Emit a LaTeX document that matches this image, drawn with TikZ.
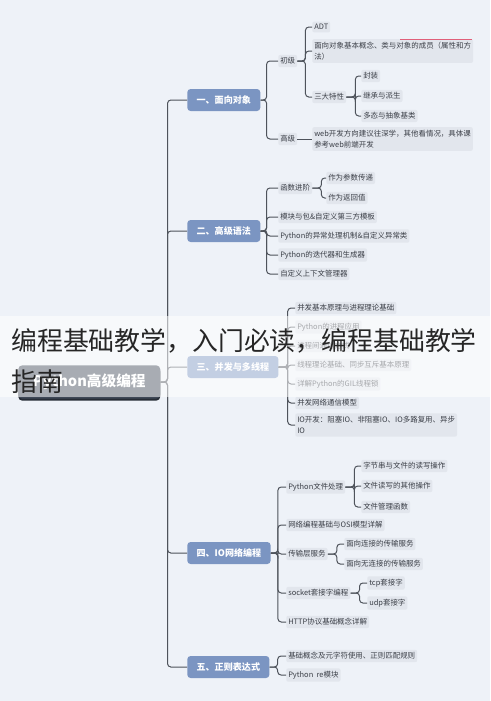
\documentclass[tikz,border=0pt]{standalone}
\usepackage{fontspec}
\setmainfont{Noto Sans CJK SC}
\usetikzlibrary{positioning,shadows}
\definecolor{bg}{HTML}{EEF2F8}
\definecolor{secblue}{HTML}{7B95C2}
\definecolor{itemgray}{HTML}{E2E6ED}
\definecolor{linegray}{HTML}{4E535B}
\definecolor{txt}{HTML}{3C4048}
\definecolor{rootdark}{HTML}{3F4857}
\definecolor{rootedge}{HTML}{262C36}
\definecolor{marker}{HTML}{E0607A}
\tikzstyle{root}=[rectangle,rounded corners=3pt,fill=rootdark,text=white,font=\fontsize{11}{13}\selectfont\bfseries,minimum width=106.5pt,minimum height=25pt,anchor=west,drop shadow={shadow xshift=0pt,shadow yshift=-1.5pt,fill=rootedge,opacity=1}]
\tikzstyle{sec}=[rectangle,rounded corners=2.5pt,fill=secblue,text=white,font=\fontsize{6.8}{8}\selectfont\bfseries,minimum height=16.5pt,inner xsep=7pt,anchor=west]
\tikzstyle{item}=[rectangle,rounded corners=1.5pt,fill=itemgray,text=txt,font=\fontsize{5.6}{8.6}\selectfont,inner xsep=1.5pt,inner ysep=2pt,align=left,anchor=west]
\tikzstyle{link}=[draw=linegray,line width=0.75pt,rounded corners=2.5pt]
\tikzstyle{wmark}=[font=\fontsize{19.4}{22}\selectfont,text=black!85,inner sep=0pt,anchor=west]
\begin{document}
\begin{tikzpicture}[x=0.75pt,y=-0.75pt]
\useasboundingbox (0,0) rectangle (490,701);
\fill[bg] (0,0) rectangle (490,701);
\node[root] (R) at (18,382) {Python高级编程};
\node[sec] (S1) at (187,100) {一、面向对象};
\node[sec] (S2) at (187,231) {二、高级语法};
\node[sec] (S3) at (187,367) {三、并发与多线程};
\node[sec] (S4) at (187,553) {四、IO网络编程};
\node[sec] (S5) at (187,667) {五、正则表达式};
\foreach \s in {S1,S2,S3,S4,S5}
  \draw[link] (R.east) -- ++(7,0) |- (\s.west);
\node[item] (A1) at (278,61) {初级};
\node[item] (A2) at (278,139) {高级};
\node[item] (A11) at (312,27) {ADT};
\node[item] (A12) at (312,51) {面向对象基本概念、类与对象的成员（属性和方\\法）};
\node[item] (A13) at (312,97) {三大特性};
\node[item] (A131) at (361,76) {封装};
\node[item] (A132) at (361,96) {继承与派生};
\node[item] (A133) at (361,116) {多态与抽象基类};
\node[item] (A21) at (312,139) {web开发方向建议往深学，其他看情况，具体课\\参考web前端开发};
\draw[marker,line width=0.6pt] (400,39) -- (472,39);
\foreach \c in {A1,A2} \draw[link] (S1.east) -- ++(6,0) |- (\c.west);
\foreach \c in {A11,A12,A13} \draw[link] (A1.east) -- ++(8,0) |- (\c.west);
\foreach \c in {A131,A132,A133} \draw[link] (A13.east) -- ++(9,0) |- (\c.west);
\draw[link] (A2.east) -- (A21.west);
\node[item] (B1) at (278,188) {函数进阶};
\node[item] (B11) at (326,178) {作为参数传递};
\node[item] (B12) at (326,198) {作为返回值};
\node[item] (B2) at (278,217) {模块与包\&自定义第三方模板};
\node[item] (B3) at (278,236) {Python的异常处理机制\&自定义异常类};
\node[item] (B4) at (278,255) {Python的迭代器和生成器};
\node[item] (B5) at (278,274) {自定义上下文管理器};
\foreach \c in {B1,B2,B3,B4,B5} \draw[link] (S2.east) -- ++(6,0) |- (\c.west);
\foreach \c in {B11,B12} \draw[link] (B1.east) -- ++(9,0) |- (\c.west);
\node[item] (C1) at (295,308) {并发基本原理与进程理论基础};
\node[item] (C2) at (295,327) {Python的进程应用};
\node[item] (C3) at (295,346) {进程间通信方式};
\node[item] (C4) at (295,365) {线程理论基础、同步互斥基本原理};
\node[item] (C5) at (295,384) {详解Python的GIL线程锁};
\node[item] (C6) at (295,403) {并发网络通信模型};
\node[item] (C7) at (295,425) {IO开发：阻塞IO、非阻塞IO、IO多路复用、异步\\IO};
\foreach \c in {C1,C2,C3,C4,C5,C6,C7} \draw[link] (S3.east) -- ++(9,0) |- (\c.west);
\node[item] (D1) at (286,487) {Python文件处理};
\node[item] (D11) at (361,466) {字节串与文件的读写操作};
\node[item] (D12) at (361,486) {文件读写的其他操作};
\node[item] (D13) at (361,507) {文件管理函数};
\node[item] (D2) at (286,525) {网络编程基础与OSI模型详解};
\node[item] (D3) at (286,554) {传输层服务};
\node[item] (D31) at (344,544) {面向连接的传输服务};
\node[item] (D32) at (344,564) {面向无连接的传输服务};
\node[item] (D4) at (286,593) {socket套接字编程};
\node[item] (D41) at (367,583) {tcp套接字};
\node[item] (D42) at (367,603) {udp套接字};
\node[item] (D5) at (286,622) {HTTP协议基础概念详解};
\foreach \c in {D1,D2,D3,D4,D5} \draw[link] (S4.east) -- ++(7,0) |- (\c.west);
\foreach \c in {D11,D12,D13} \draw[link] (D1.east) -- ++(9,0) |- (\c.west);
\foreach \c in {D31,D32} \draw[link] (D3.east) -- ++(9,0) |- (\c.west);
\foreach \c in {D41,D42} \draw[link] (D4.east) -- ++(9,0) |- (\c.west);
\node[item] (E1) at (286,656) {基础概念及元字符使用、正则匹配规则};
\node[item] (E2) at (286,675) {Python~~re模块};
\foreach \c in {E1,E2} \draw[link] (S5.east) -- ++(8,0) |- (\c.west);
\fill[white,opacity=0.55] (0,316) rectangle (490,397);
\node[wmark] (W1) at (11,341) {编程基础教学，入门必读，编程基础教学};
\node[wmark] (W2) at (11,382) {指南};
\end{tikzpicture}
\end{document}
